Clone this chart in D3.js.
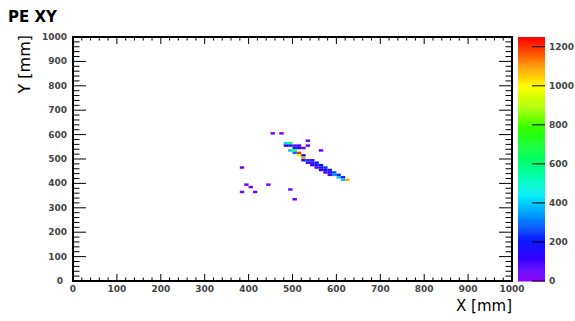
<!DOCTYPE html>
<html>
<head>
<meta charset="utf-8">
<script src="https://cdn.jsdelivr.net/npm/d3@7"></script>
<style>
  body { margin: 0; background: #fff; }
  text { font-family: "DejaVu Sans", sans-serif; }
</style>
</head>
<body>
<svg id="chart" width="575" height="321"></svg>
<script>
// 2D histogram bins (lower edge in mm, 10 mm bins) and their content
const binX = [480, 490, 490, 500, 500, 510, 510, 520, 530, 530, 490, 500, 510, 510, 520, 520, 520, 530,
  530, 540, 540, 550, 550, 560, 560, 570, 570, 580, 580, 590, 590, 600, 600, 610, 610, 620,
  480, 500, 540, 550, 560, 570, 580,
  450, 470, 560, 380, 390, 400, 380, 410, 440, 490, 500];
const binY = [560, 560, 550, 550, 540, 540, 550, 540, 570, 550, 530, 530, 520, 510, 510, 500, 490, 490,
  480, 490, 480, 480, 470, 470, 460, 460, 450, 450, 440, 440, 430, 430, 420, 420, 410, 410,
  550, 520, 470, 460, 450, 440, 430,
  600, 600, 530, 460, 390, 380, 360, 360, 390, 370, 330];
const binZ = [420, 650, 200, 60, 230, 150, 80, 50, 40, 45, 380, 700, 1200, 950, 180, 1100, 210, 260,
  140, 80, 190, 230, 170, 210, 160, 250, 150, 210, 190, 270, 330, 240, 390, 220, 380, 1080,
  120, 300, 110, 90, 130, 100, 80,
  30, 35, 40, 45, 30, 35, 40, 35, 30, 40, 45];

const xTicks = [0, 100, 200, 300, 400, 500, 600, 700, 800, 900, 1000];
const yTicks = [0, 100, 200, 300, 400, 500, 600, 700, 800, 900, 1000];
const zTicks = [0, 200, 400, 600, 800, 1000, 1200];
const zMax = 1250;

// palette stops (value -> colour), rainbow like the ROOT one
const palValues = [0, 120, 230, 330, 430, 530, 650, 780, 900, 1000, 1100, 1250];
const palColors = ['#8a00ff', '#3300ff', '#0020ff', '#0090ff', '#00e8ff', '#00ffb4', '#00ff50', '#30ff00',
  '#b4ff00', '#ffff00', '#ff9a00', '#ff0000'];

const svg = d3.select('#chart');
const fx0 = 73, fx1 = 512, fy0 = 37, fy1 = 281;

const x = d3.scaleLinear().domain([0, 1000]).range([fx0, fx1]);
const y = d3.scaleLinear().domain([0, 1000]).range([fy1, fy0]);
const z = d3.scaleLinear().domain([0, zMax]).range([fy1, fy0]);
const color = d3.scaleLinear().domain(palValues).range(palColors).clamp(true);

const cells = binX.map((bx, i) => ({ x: bx, y: binY[i], v: binZ[i] }));

// cells
svg.append('g')
  .selectAll('rect')
  .data(cells)
  .enter()
  .append('rect')
  .attr('x', (d) => x(d.x))
  .attr('y', (d) => y(d.y + 10))
  .attr('width', (d) => x(d.x + 10) - x(d.x))
  .attr('height', (d) => y(d.y) - y(d.y + 10))
  .attr('fill', (d) => color(d.v));

// frame ticks
const tickG = svg.append('g').attr('stroke', '#000').attr('stroke-width', 1);
const xMinor = d3.range(0, 1001, 20);
xMinor.forEach((t) => {
  const len = t % 100 === 0 ? 7 : 3.5;
  tickG.append('line').attr('x1', x(t)).attr('x2', x(t)).attr('y1', fy1).attr('y2', fy1 - len);
  tickG.append('line').attr('x1', x(t)).attr('x2', x(t)).attr('y1', fy0).attr('y2', fy0 + len);
});
const yMinor = d3.range(0, 1001, 20);
yMinor.forEach((t) => {
  const len = t % 100 === 0 ? 13 : 6.5;
  tickG.append('line').attr('y1', y(t)).attr('y2', y(t)).attr('x1', fx0).attr('x2', fx0 + len);
  tickG.append('line').attr('y1', y(t)).attr('y2', y(t)).attr('x1', fx1).attr('x2', fx1 - len);
});

svg.append('rect')
  .attr('x', fx0).attr('y', fy0)
  .attr('width', fx1 - fx0).attr('height', fy1 - fy0)
  .attr('fill', 'none').attr('stroke', '#000').attr('stroke-width', 2);

// tick labels
const labelStyle = (sel) => sel.attr('font-size', 9).attr('font-weight', 'bold').attr('fill', '#444');

xTicks.forEach((t) => {
  svg.append('text').call(labelStyle)
    .attr('x', x(t)).attr('y', 292)
    .attr('text-anchor', 'middle')
    .text(t);
});
yTicks.forEach((t) => {
  svg.append('text').call(labelStyle)
    .attr('x', t === 0 ? 63 : 67).attr('y', y(t) + 3)
    .attr('text-anchor', 'end')
    .text(t);
});

// colour bar
const zx0 = 518, zx1 = 545;
const steps = d3.range(0, zMax, 5);
svg.append('g')
  .selectAll('rect')
  .data(steps)
  .enter()
  .append('rect')
  .attr('x', zx0)
  .attr('width', zx1 - zx0)
  .attr('y', (d) => z(d + 5))
  .attr('height', (d) => z(d) - z(d + 5) + 0.5)
  .attr('fill', (d) => color(d + 2.5));

zTicks.forEach((t) => {
  svg.append('line')
    .attr('x1', zx1 - 13).attr('x2', zx1)
    .attr('y1', z(t)).attr('y2', z(t))
    .attr('stroke', '#000').attr('stroke-width', 1);
  svg.append('text').call(labelStyle)
    .attr('x', 549).attr('y', z(t) + 3)
    .attr('text-anchor', 'start')
    .text(t);
});

// titles
svg.append('text')
  .attr('x', 8).attr('y', 22)
  .attr('font-size', 15).attr('font-weight', 'bold')
  .text('PE XY');

svg.append('text')
  .attr('x', 512).attr('y', 311)
  .attr('text-anchor', 'end')
  .attr('font-size', 15)
  .text('X [mm]');

svg.append('text')
  .attr('transform', 'translate(30,35) rotate(-90)')
  .attr('text-anchor', 'end')
  .attr('font-size', 16)
  .text('Y [mm]');
</script>
</body>
</html>
